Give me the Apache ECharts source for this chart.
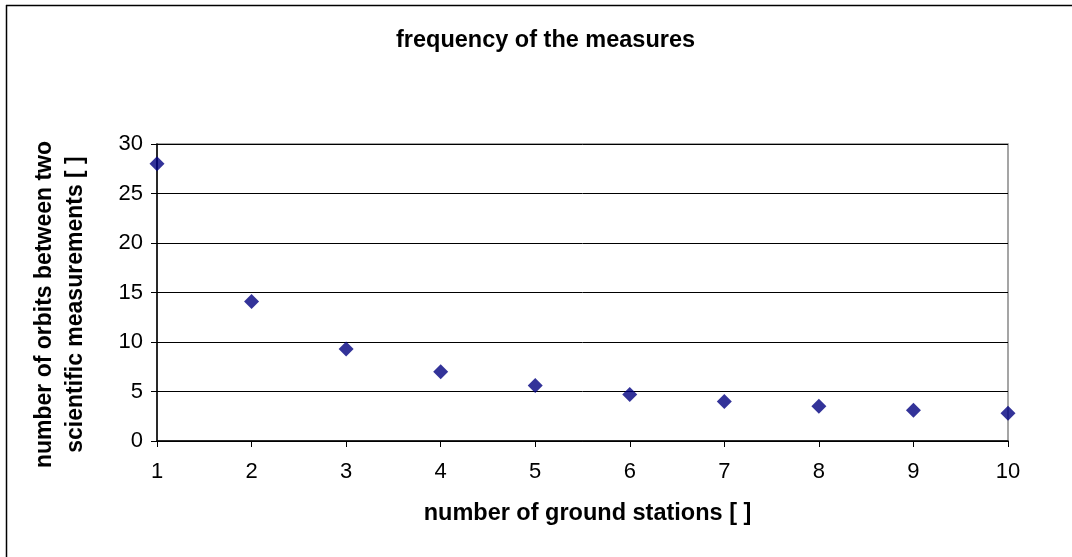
<!DOCTYPE html>
<html>
<head>
<meta charset="utf-8">
<script src="https://cdn.jsdelivr.net/npm/echarts@6/dist/echarts.min.js"></script>
<style>
html,body{margin:0;padding:0;background:#fff;}
#chart{width:1072px;height:557px;}
</style>
</head>
<body>
<div id="chart"></div>
<script>
const stations = [1, 2, 3, 4, 5, 6, 7, 8, 9, 10];
const orbits = [28, 14.1, 9.3, 7.0, 5.6, 4.7, 4.0, 3.5, 3.1, 2.8];
const titleText = 'frequency of the measures';
const xName = 'number of ground stations [ ]';
const yName = 'number of orbits between two\nscientific measurements [ ]';

const chart = echarts.init(document.getElementById('chart'), null, {renderer: 'canvas'});
const FONT = 'Liberation Sans, Arial, sans-serif';
chart.setOption({
  backgroundColor: '#fff',
  animation: false,
  title: {
    text: titleText, left: 391, top: 24,
    textStyle: {fontFamily: FONT, fontSize: 23.5, fontWeight: 'bold', color: '#000'}
  },
  graphic: [
    {type: 'line', shape: {x1: 6, y1: 5.5, x2: 1072, y2: 5.5}, style: {stroke: '#000', lineWidth: 1.5}},
    {type: 'line', shape: {x1: 6.5, y1: 5, x2: 6.5, y2: 557}, style: {stroke: '#000', lineWidth: 1.5}}
  ],
  grid: {left: 157, right: 64, top: 144, bottom: 116, show: true, borderColor: '#888', borderWidth: 1.5},
  xAxis: {
    type: 'value', min: 1, max: 10, interval: 1,
    name: xName, nameLocation: 'middle', nameGap: 61,
    nameTextStyle: {fontFamily: FONT, fontSize: 23.5, fontWeight: 'bold', color: '#000', padding: [0, 0, 0, 10]},
    axisLine: {lineStyle: {color: '#000', width: 1.5}},
    axisTick: {show: true, length: 6, lineStyle: {color: '#000'}},
    axisLabel: {fontFamily: FONT, fontSize: 22, color: '#000', margin: 20},
    splitLine: {show: false}
  },
  yAxis: {
    type: 'value', min: 0, max: 30, interval: 5,
    name: yName, nameLocation: 'middle', nameGap: 66,
    nameTextStyle: {fontFamily: FONT, fontSize: 23, fontWeight: 'bold', color: '#000', lineHeight: 31, padding: [0, 24, 0, 0]},
    axisLine: {show: true, lineStyle: {color: '#000', width: 1.5}},
    axisTick: {show: true, length: 6, lineStyle: {color: '#000'}},
    axisLabel: {fontFamily: FONT, fontSize: 22, color: '#000', margin: 14},
    splitLine: {show: true, lineStyle: {color: '#000', width: 1}}
  },
  series: [{
    type: 'scatter',
    data: stations.map((s, i) => [s, orbits[i]]),
    symbol: 'diamond', symbolSize: 15,
    itemStyle: {color: '#000080'},
    clip: false
  }]
});
</script>
</body>
</html>
